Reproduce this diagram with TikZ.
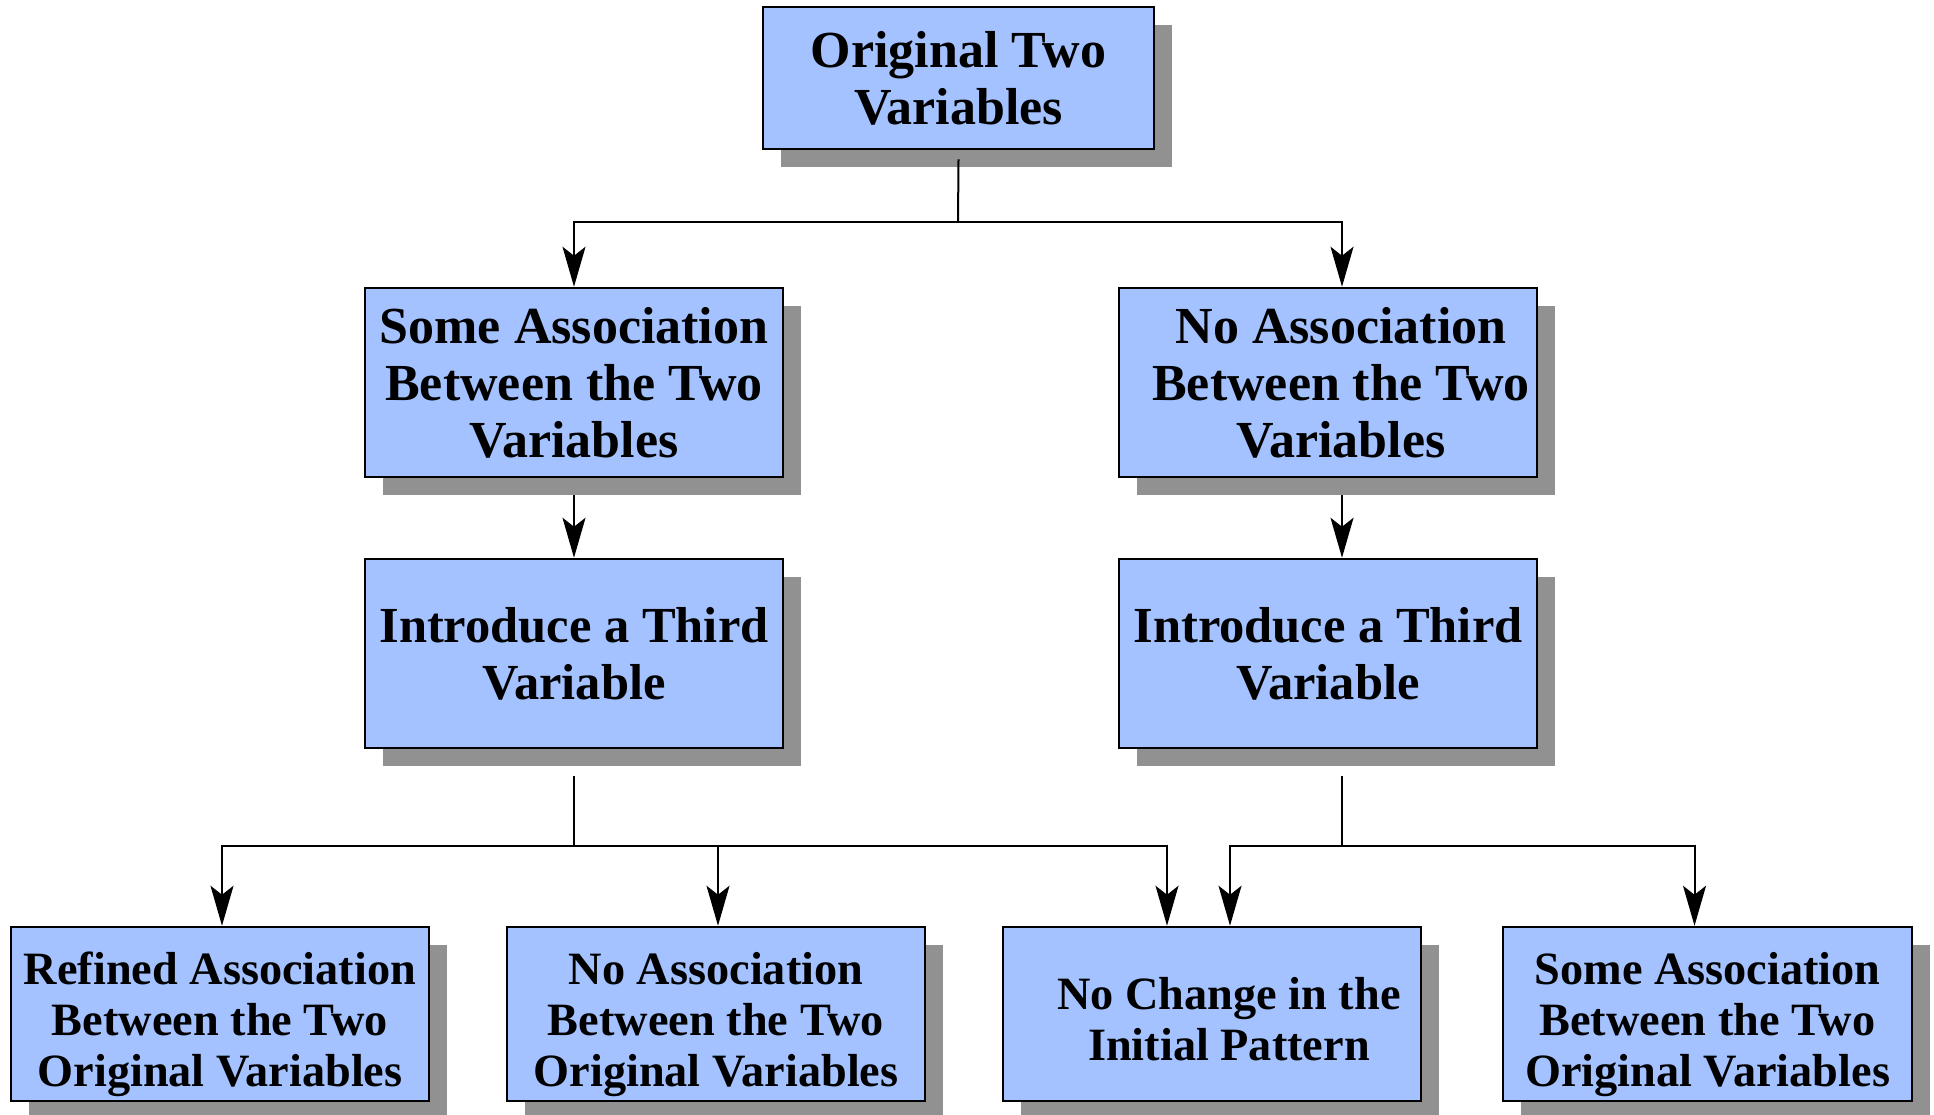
\documentclass[tikz,border=0pt]{standalone}
\usepackage{fontspec}
\setmainfont{Liberation Serif}
\usetikzlibrary{shadows,arrows.meta}
\definecolor{boxblue}{RGB}{164,194,255}
\definecolor{shadowgray}{RGB}{145,145,145}
\begin{document}
\begin{tikzpicture}[x=1pt,y=-1pt,
		box/.style={draw,line width=2.5pt,fill=boxblue,inner sep=0pt,align=center,
			font=\bfseries\fontsize{52}{57}\selectfont,minimum width=418pt,minimum height=189pt,
			drop shadow={shadow xshift=18pt,shadow yshift=-18pt,fill=shadowgray,opacity=1}},
		thirdbox/.style={box,font=\bfseries\fontsize{50.5}{57}\selectfont},
		smallbox/.style={box,minimum height=174pt,font=\bfseries\fontsize{46.3}{51}\selectfont},
		link/.style={line width=2pt},
		arrow/.style={link,-{Stealth[length=40pt,width=23pt,inset=9pt]}}]
		\useasboundingbox (0,0) rectangle (1934,1114);
		\node[box,minimum width=391pt,minimum height=142pt] (orig) at (958.5,78) {Original Two\\Variables};
		\node[box] (someassoc) at (574,382.5) {Some Association\\Between the Two\\Variables};
		\node[box] (noassoc) at (1328,382.5) {\hspace*{26pt}No Association\\\hspace*{26pt}Between the Two\\\hspace*{26pt}Variables};
		\node[thirdbox] (thirdl) at (574,653.5) {Introduce a Third\\Variable};
		\node[thirdbox] (thirdr) at (1328,653.5) {Introduce a Third\\Variable};
		\node[smallbox] (refined) at (220,1014) {\rule{0pt}{53pt}Refined Association\\Between the Two\\Original Variables};
		\node[smallbox] (noassocb) at (716,1014) {\rule{0pt}{53pt}No Association\\Between the Two\\Original Variables};
		\node[smallbox] (nochange) at (1212,1014) {\rule{0pt}{42pt}\hspace*{34pt}No Change in the\\\hspace*{34pt}Initial Pattern};
		\node[smallbox,minimum width=409pt] (someassocb) at (1707.5,1014) {\rule{0pt}{53pt}Some Association\\Between the Two\\Original Variables};
		\coordinate (top) at (958,222);
		\coordinate (midl) at (574,846);
		\coordinate (midr) at (1342,846);
		\draw[link] ([yshift=-9pt]orig.south) -- (top);
		\draw[arrow] (top) -| (someassoc.north);
		\draw[arrow] (top) -| ([xshift=14pt]noassoc.north);
		\draw[arrow] ([yshift=-17pt]someassoc.south) -- (thirdl.north);
		\draw[arrow] ([xshift=14pt,yshift=-17pt]noassoc.south) -- ([xshift=14pt]thirdr.north);
		\draw[link] ([yshift=-27pt]thirdl.south) -- (midl);
		\draw[link] ([xshift=14pt,yshift=-27pt]thirdr.south) -- (midr);
		\draw[arrow] (midl) -| ([xshift=2pt]refined.north);
		\draw[arrow] (midl) -| ([xshift=2pt]noassocb.north);
		\draw[arrow] (midl) -| ([xshift=-45pt]nochange.north);
		\draw[arrow] (midr) -| ([xshift=18pt]nochange.north);
		\draw[arrow] (midr) -| ([xshift=-13pt]someassocb.north);
	\end{tikzpicture}
\end{document}
